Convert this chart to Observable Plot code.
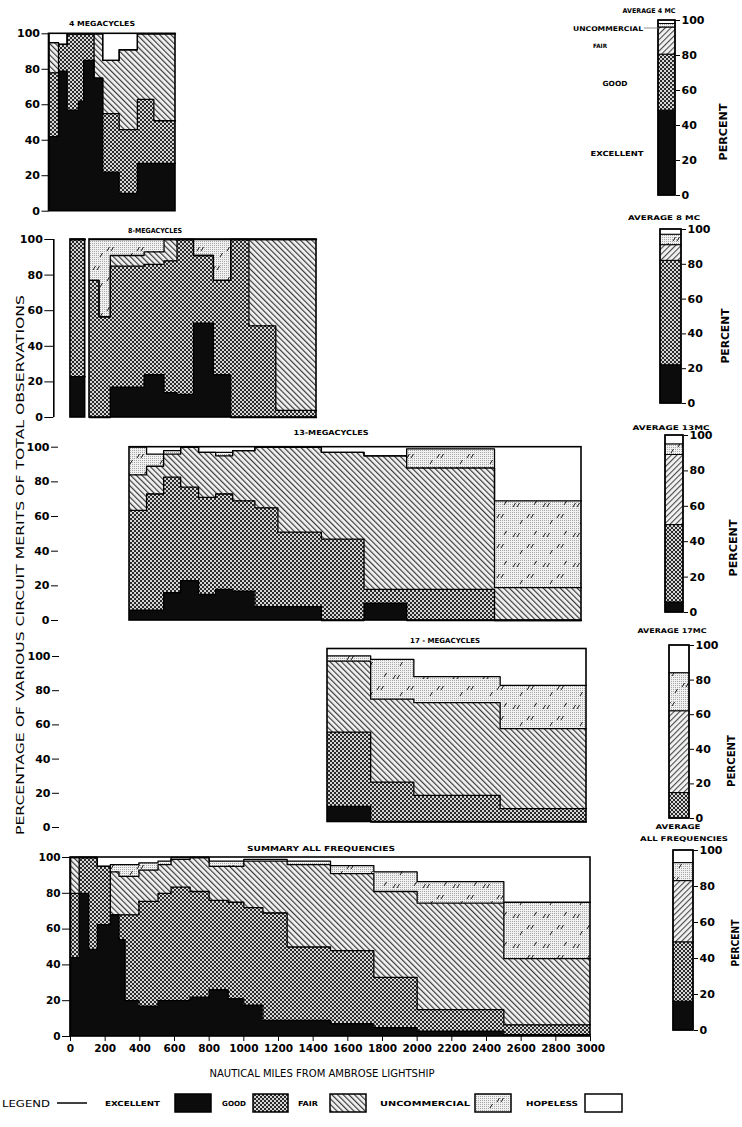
<!DOCTYPE html>
<html>
<head>
<meta charset="utf-8">
<script src="https://cdn.jsdelivr.net/npm/d3@7"></script>
<script src="https://cdn.jsdelivr.net/npm/@observablehq/plot@0.6"></script>
<style>
html, body { margin:0; padding:0; background:#fff; }
#chart { position:relative; width:742px; height:1127px; overflow:hidden; background:#fff; }
#chart > svg { position:absolute; }
</style>
</head>
<body>
<div id="chart"></div>
<script>
// ---------------- DATA ----------------
const categories = ["Excellent", "Good", "Fair", "Uncommercial", "Hopeless"];
const yTicks = [0, 20, 40, 60, 80, 100];
const xTicks = [0, 200, 400, 600, 800, 1000, 1200, 1400, 1600, 1800, 2000, 2200, 2400, 2600, 2800, 3000];

// Panel values: distance bins (nautical miles) and cumulative percent tops
// (excellent, +good, +fair, +uncommercial; hopeless fills the rest to 100)

// 4 megacycles
const mc4Start     = [0, 55, 105, 170, 200, 260, 310, 405, 510, 605];
const mc4End       = [55, 105, 170, 200, 260, 310, 405, 510, 605, 730];
const mc4Excellent = [42, 79, 57, 62, 85, 75, 22, 10, 27, 27];
const mc4Good      = [78, 94, 100, 100, 100, 75, 55, 46, 63, 51];
const mc4Fair      = [95, 94, 100, 100, 100, 100, 85, 91, 100, 100];
const mc4Uncomm    = [95, 94, 100, 100, 100, 100, 85, 91, 100, 100];

// 8 megacycles
const mc8Start     = [0, 110, 165, 230, 425, 540, 615, 710, 825, 925, 1030, 1185];
const mc8End       = [85, 165, 230, 425, 540, 615, 710, 825, 925, 1030, 1185, 1420];
const mc8Excellent = [23, 0, 0, 17, 24, 14, 13, 53, 24, 0, 0, 0];
const mc8Good      = [100, 77, 56.5, 85, 86, 88, 100, 91, 77, 100, 51.5, 4];
const mc8Fair      = [100, 77, 56.5, 91, 93, 100, 100, 91, 77, 100, 100, 100];
const mc8Uncomm    = [100, 100, 100, 100, 100, 100, 100, 100, 100, 100, 100, 100];

// 13 megacycles
const mc13Start     = [350, 450, 550, 650, 755, 855, 955, 1085, 1220, 1475, 1725, 1975, 2490];
const mc13End       = [450, 550, 650, 755, 855, 955, 1085, 1220, 1475, 1725, 1975, 2490, 3000];
const mc13Excellent = [6, 6, 16, 23, 15, 18, 17, 8, 8, 0, 10, 0, 0];
const mc13Good      = [63.5, 73, 82.7, 77, 71, 73, 69, 65, 51, 47, 18, 18, 0];
const mc13Fair      = [84, 89, 96, 100, 97, 95, 98, 100, 100, 97, 95, 88, 19];
const mc13Uncomm    = [100, 96, 98, 100, 97, 97, 98, 100, 100, 97, 95, 99, 69];

// 17 megacycles
const mc17Start     = [1500, 1750, 2000, 2500];
const mc17End       = [1750, 2000, 2500, 3000];
const mc17Excellent = [9, 0, 0, 0];
const mc17Good      = [52, 23, 15.4, 7.7];
const mc17Fair      = [93, 71, 69, 54];
const mc17Uncomm    = [96, 94, 84, 79];

// Summary, all frequencies
const sumStart     = [0, 50, 105, 155, 230, 280, 315, 395, 505, 580, 690, 800, 910, 1000, 1110, 1250, 1500, 1750, 2000, 2500];
const sumEnd       = [50, 105, 155, 230, 280, 315, 395, 505, 580, 690, 800, 910, 1000, 1110, 1250, 1500, 1750, 2000, 2500, 3000];
const sumExcellent = [44, 80, 48.7, 62.5, 68, 54, 20, 17, 20, 20, 22, 26, 21, 17.5, 9, 9, 7, 5, 3, 1];
const sumGood      = [80, 100, 100, 95, 68, 68, 68, 75.5, 80, 83.5, 81, 76, 75, 72, 69, 50, 48, 33, 15, 6.5];
const sumFair      = [100, 100, 100, 95, 92, 89.5, 89.5, 93, 96, 99, 100, 95, 95, 98, 98, 96, 91, 81, 74.5, 43.5];
const sumUncomm    = [100, 100, 100, 95, 96, 96, 96, 97, 98, 100, 100, 98, 98, 99, 99, 98, 95.5, 92, 86.5, 75];

// Averages: share (percent) of each category, in the order of `categories`
const avg4MC  = [48.5, 32, 15.5, 2, 2];
const avg8MC  = [22, 60, 9, 6, 3];
const avg13MC = [5.7, 43.7, 39.6, 6, 5];
const avg17MC = [0, 14.7, 47.3, 22, 16];
const avgAll  = [16, 33, 34, 10, 7];

// ---------------- STYLE ----------------
const FONT = "'DejaVu Sans', 'Liberation Sans', sans-serif";
const FILL = {
  Excellent: "#0c0c0c",
  Good: "url(#pGood)",
  Fair: "url(#pFair)",
  Uncommercial: "url(#pUnc)",
  Hopeless: "#ffffff"
};
const FILL_AVG = Object.assign({}, FILL, {Fair: "url(#pFairAvg)"});

const chart = document.getElementById("chart");
chart.insertAdjacentHTML("beforeend", `<svg width="0" height="0" style="position:absolute;left:0;top:0"><defs>
<pattern id="pGood" patternUnits="userSpaceOnUse" width="4" height="4">
 <rect width="4" height="4" fill="#d6d6d6"/><rect width="2" height="2" fill="#2a2a2a"/><rect x="2" y="2" width="2" height="2" fill="#2a2a2a"/>
</pattern>
<pattern id="pFair" patternUnits="userSpaceOnUse" width="4" height="4" patternTransform="rotate(-45)">
 <rect width="4" height="4" fill="#f3f3f3"/><rect width="1.2" height="4" fill="#3a3a3a"/>
</pattern>
<pattern id="pFairAvg" patternUnits="userSpaceOnUse" width="4" height="4" patternTransform="rotate(45)">
 <rect width="4" height="4" fill="#f3f3f3"/><rect width="1.1" height="4" fill="#4a4a4a"/>
</pattern>
<pattern id="pDots" patternUnits="userSpaceOnUse" width="2" height="2">
 <rect width="2" height="2" fill="#f1f1f1"/><rect width="1" height="1" fill="#a8a8a8"/>
</pattern>
<pattern id="pUnc" patternUnits="userSpaceOnUse" width="30" height="30">
 <rect width="30" height="30" fill="url(#pDots)"/>
 <path d="M3 11l2.5-4M7 11l2.5-4M17 22l2.5-4M21 22l2.5-4M24 9l2.5-4M10 28l2.5-4" stroke="#1a1a1a" stroke-width="1"/>
</pattern>
</defs></svg>`);

function place(svg, left, top) {
  svg.style.position = "absolute";
  svg.style.left = left + "px";
  svg.style.top = top + "px";
  chart.appendChild(svg);
}

function stackRows(start, end, tops) {
  const rows = [];
  start.forEach((s, i) => {
    let lo = 0;
    categories.forEach((c, k) => {
      const hi = k < tops.length ? tops[k][i] : 100;
      if (hi > lo) rows.push({x1: s, x2: end[i], y1: lo, y2: hi, cat: c});
      lo = Math.max(lo, hi);
    });
  });
  return rows;
}
function stepPoints(start, end, tops) {
  const pts = [];
  tops.forEach((series, k) => {
    let g = 0;
    start.forEach((s, i) => {
      if (i > 0 && s !== end[i - 1]) g++;
      pts.push({x: s, y: series[i], z: k + "-" + g});
      pts.push({x: end[i], y: series[i], z: k + "-" + g});
    });
  });
  return pts;
}
function contiguousFrames(start, end) {
  const out = [];
  start.forEach((s, i) => {
    if (i === 0 || s !== end[i - 1]) out.push({x1: s, x2: end[i], y1: 0, y2: 100});
    else out[out.length - 1].x2 = end[i];
  });
  return out;
}
const baseStyle = {background: "transparent", overflow: "visible", fontFamily: FONT, fontSize: "11px", fontWeight: "bold", color: "#000"};

function drawPanel(p) {
  const tops = [p.exc, p.good, p.fair, p.unc];
  const rows = stackRows(p.start, p.end, tops);
  const svgTop = Math.floor(p.top) - 10;
  const mt = p.top - svgTop;
  const mb = p.xAxis ? 26 : 8;
  const W = Math.ceil(p.right) + 10;
  const plot = Plot.plot({
    width: W, height: Math.ceil(p.bottom - svgTop + mb),
    marginLeft: p.left, marginRight: W - p.right, marginTop: mt,
    marginBottom: Math.ceil(p.bottom - svgTop + mb) - (p.bottom - svgTop),
    style: Object.assign({}, baseStyle, p.xAxis ? {fontSize: "10.5px"} : {}),
    x: {domain: p.domain, axis: p.xAxis ? "bottom" : null, ticks: xTicks, tickSize: 5, tickPadding: 3,
        tickFormat: d => String(d), label: null},
    y: {domain: [0, 100], axis: p.yAxis ? "left" : null, ticks: yTicks, tickSize: p.tickSize || 8,
        tickPadding: 2, label: null},
    marks: [
      ...categories.map(c => Plot.rect(rows.filter(r => r.cat === c),
        {x1: "x1", x2: "x2", y1: "y1", y2: "y2", fill: FILL[c], shapeRendering: "crispEdges"})),
      Plot.line(stepPoints(p.start, p.end, tops), {x: "x", y: "y", z: "z", stroke: "#000", strokeWidth: 1.3}),
      Plot.rect(contiguousFrames(p.start, p.end), {x1: "x1", x2: "x2", y1: "y1", y2: "y2", fill: "none", stroke: "#000", strokeWidth: 1.6}),
      p.yAxis ? Plot.ruleX([p.domain[0]], {stroke: "#000", strokeWidth: 1.6}) : null
    ]
  });
  place(plot, 0, svgTop);
}

function drawAxisOnly(x, top, bottom, tickSize) {
  const svgTop = Math.floor(top) - 10;
  const W = Math.ceil(x) + 3;
  const H = Math.ceil(bottom - svgTop) + 10;
  const plot = Plot.plot({
    width: W, height: H, marginLeft: x, marginRight: W - x - 0.5, marginTop: top - svgTop,
    marginBottom: H - (bottom - svgTop), style: baseStyle,
    x: {domain: [0, 1], axis: null},
    y: {domain: [0, 100], ticks: yTicks, tickSize, tickPadding: 2, label: null},
    marks: []
  });
  place(plot, 0, svgTop);
}

function drawAvg(shares, left, right, top, bottom) {
  let lo = 0;
  const rows = categories.map((c, k) => {
    const r = {x1: 0, x2: 1, y1: lo, y2: lo + shares[k], cat: c};
    lo += shares[k];
    return r;
  }).filter(r => r.y2 > r.y1);
  const svgLeft = Math.floor(left) - 4;
  const svgTop = Math.floor(top) - 10;
  const W = Math.ceil(right) + 34 - svgLeft;
  const H = Math.ceil(bottom - svgTop) + 10;
  const plot = Plot.plot({
    width: W, height: H,
    marginLeft: left - svgLeft, marginRight: W - (right - svgLeft), marginTop: top - svgTop,
    marginBottom: H - (bottom - svgTop),
    style: Object.assign({}, baseStyle, {fontSize: "11px"}),
    x: {domain: [0, 1], axis: null},
    y: {domain: [0, 100], axis: "right", ticks: yTicks, tickSize: 4, tickPadding: 2, label: null},
    marks: [
      ...categories.map(c => Plot.rect(rows.filter(r => r.cat === c),
        {x1: "x1", x2: "x2", y1: "y1", y2: "y2", fill: FILL_AVG[c], stroke: "#000", strokeWidth: 1})),
      Plot.rect([{x1: 0, x2: 1, y1: 0, y2: 100}], {x1: "x1", x2: "x2", y1: "y1", y2: "y2", fill: "none", stroke: "#000", strokeWidth: 1.6})
    ]
  });
  place(plot, svgLeft, svgTop);
}

// ---------------- PANELS ----------------
drawPanel({start: mc4Start, end: mc4End, exc: mc4Excellent, good: mc4Good, fair: mc4Fair, unc: mc4Uncomm,
  domain: [0, 730], left: 48.5, right: 175, top: 33.3, bottom: 210.7, yAxis: true, tickSize: 7});
drawPanel({start: mc8Start, end: mc8End, exc: mc8Excellent, good: mc8Good, fair: mc8Fair, unc: mc8Uncomm,
  domain: [-96, 1420], left: 53.3, right: 316, top: 239, bottom: 417, yAxis: true, tickSize: 9});
drawPanel({start: mc13Start, end: mc13End, exc: mc13Excellent, good: mc13Good, fair: mc13Fair, unc: mc13Uncomm,
  domain: [350, 3000], left: 129, right: 581, top: 446.7, bottom: 620});
drawAxisOnly(58, 446.7, 620, 7);
drawPanel({start: mc17Start, end: mc17End, exc: mc17Excellent, good: mc17Good, fair: mc17Fair, unc: mc17Uncomm,
  domain: [1500, 3000], left: 327, right: 586, top: 648.5, bottom: 821.5});
drawAxisOnly(59, 656, 827, 7);
drawPanel({start: sumStart, end: sumEnd, exc: sumExcellent, good: sumGood, fair: sumFair, unc: sumUncomm,
  domain: [0, 3000], left: 70, right: 590, top: 857, bottom: 1036, yAxis: true, xAxis: true, tickSize: 8});

drawAvg(avg4MC, 658, 675, 20, 195);
drawAvg(avg8MC, 660, 681, 229, 403);
drawAvg(avg13MC, 665, 683, 435, 612);
drawAvg(avg17MC, 669, 689, 645, 818);
drawAvg(avgAll, 673, 693, 850, 1030);

// ---------------- TEXT OVERLAY ----------------
const ov = d3.select(chart).append("svg")
  .attr("width", 742).attr("height", 1127)
  .style("left", "0px").style("top", "0px").style("pointer-events", "none")
  .attr("font-family", FONT).attr("font-weight", "bold");

function txt(str, x, y, o = {}) {
  const t = ov.append("text").attr("x", x).attr("y", y)
    .attr("font-size", o.size || 7).attr("text-anchor", o.anchor || "middle")
    .attr("fill", "#000").text(str);
  if (o.len) t.attr("textLength", o.len).attr("lengthAdjust", o.adjust || "spacingAndGlyphs");
  if (o.rotate) t.attr("transform", `rotate(${o.rotate},${x},${y})`);
  if (o.weight) t.attr("font-weight", o.weight);
  return t;
}

txt("4 MEGACYCLES", 102, 25.5, {len: 66});
txt("8-MEGACYCLES", 155, 232.5, {len: 54});
txt("13-MEGACYCLES", 331, 435, {len: 75});
txt("17 - MEGACYCLES", 445, 643, {len: 70});
txt("SUMMARY  ALL FREQUENCIES", 321, 851, {len: 148});

txt("AVERAGE   4 MC", 649, 12.5, {len: 53, size: 6.5});
txt("UNCOMMERCIAL", 608, 31, {len: 70, size: 6.5});
txt("FAIR", 600, 48, {len: 14, size: 6});
txt("GOOD", 615, 86, {len: 25, size: 7});
txt("EXCELLENT", 617, 156, {len: 53, size: 7});
ov.append("line").attr("x1", 644).attr("x2", 659).attr("y1", 28).attr("y2", 28).attr("stroke", "#777").attr("stroke-width", 0.8);

txt("AVERAGE  8 MC", 664, 220, {len: 72, size: 6.5});
txt("AVERAGE   13MC", 671, 430, {len: 77, size: 6.5});
txt("AVERAGE    17MC", 672, 633, {len: 69, size: 6.5});
txt("AVERAGE", 678, 829, {len: 45, size: 6.5});
txt("ALL FREQUENCIES", 684, 841, {len: 88, size: 6.5});

[[727, 132, 57], [729, 336, 55], [737, 548, 57], [735, 761, 52], [739, 943, 47]].forEach(([x, y, l]) =>
  txt("PERCENT", x, y, {rotate: -90, size: 10.5, len: l}));

txt("PERCENTAGE OF VARIOUS CIRCUIT MERITS OF TOTAL OBSERVATIONS", 24, 565, {rotate: -90, size: 11, len: 540, adjust: "spacingAndGlyphs", weight: "normal"});
txt("NAUTICAL MILES FROM AMBROSE LIGHTSHIP", 322, 1077, {len: 225, size: 10, weight: "normal"});

// legend
txt("LEGEND", 2, 1107, {anchor: "start", len: 48, size: 9.5, weight: "normal"});
ov.append("line").attr("x1", 57).attr("x2", 87).attr("y1", 1103).attr("y2", 1103).attr("stroke", "#000").attr("stroke-width", 1.5);
const legendItems = [
  ["EXCELLENT", 105, 55, 175, 211, FILL.Excellent],
  ["GOOD", 222, 24, 253, 288, FILL.Good],
  ["FAIR", 298, 20, 330, 366, FILL.Fair],
  ["UNCOMMERCIAL", 380, 90, 475, 511, FILL.Uncommercial],
  ["HOPELESS", 526, 52, 585, 622, FILL.Hopeless]
];
legendItems.forEach(([label, tx, tl, bx1, bx2, fill]) => {
  txt(label, tx, 1106, {anchor: "start", len: tl, size: 7});
  ov.append("rect").attr("x", bx1).attr("y", 1094).attr("width", bx2 - bx1).attr("height", 18)
    .attr("fill", fill).attr("stroke", "#000").attr("stroke-width", 1.5);
});
</script>
</body>
</html>
